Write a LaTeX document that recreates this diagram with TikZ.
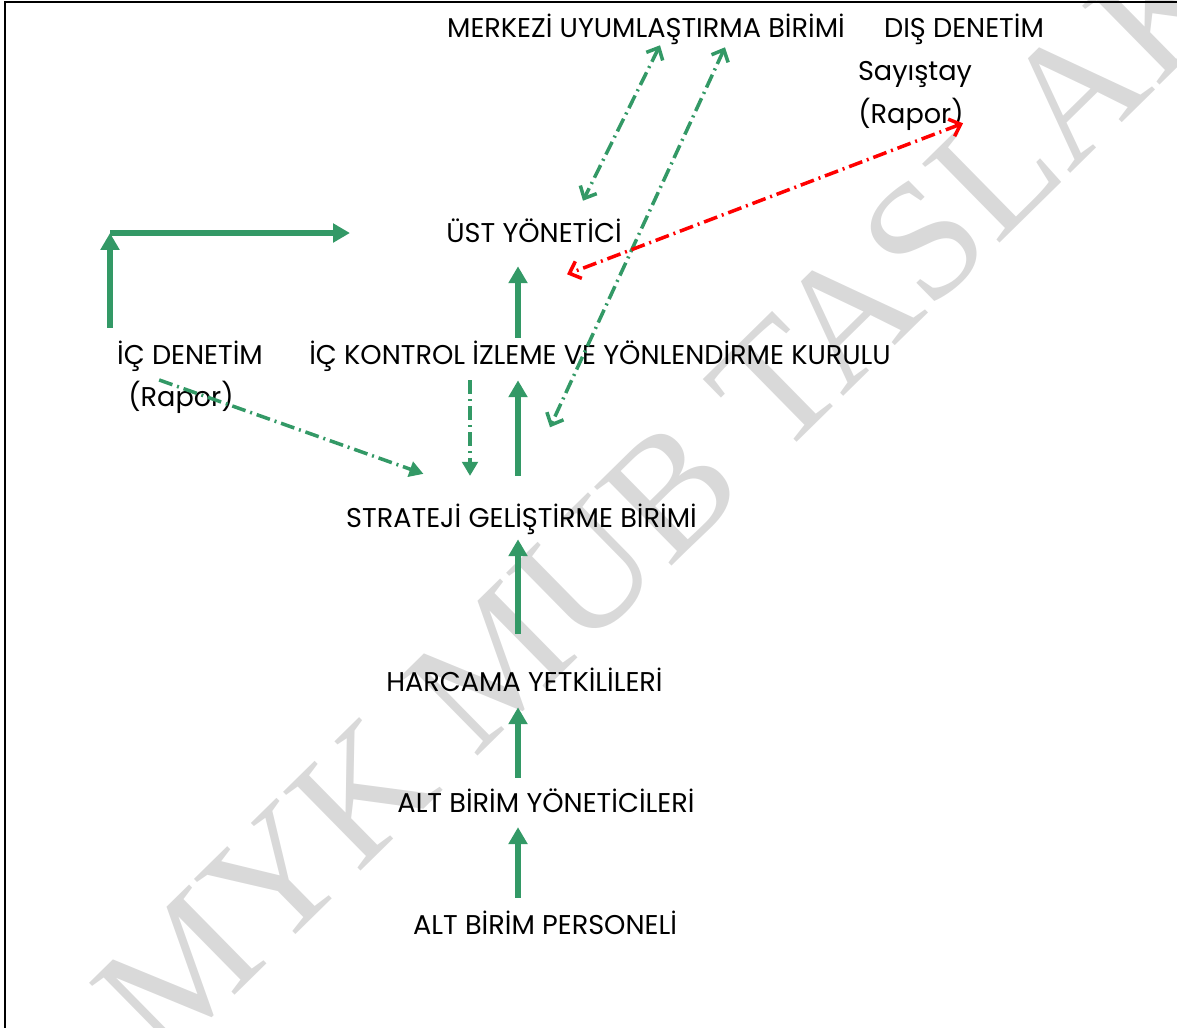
\documentclass[tikz,border=0pt]{standalone}
\usepackage{fontspec}
\setmainfont{Poppins}
\newfontfamily\wmfont{Liberation Serif}
\usetikzlibrary{arrows.meta,calc}
\definecolor{kgreen}{RGB}{51,153,102}
\definecolor{wmgray}{RGB}{217,217,217}

\begin{document}
\begin{tikzpicture}[x=0.025cm, y=-0.025cm,
  lbl/.style={inner sep=0pt, text height=0.45cm, text depth=0pt, font=\fontsize{19.3}{21}\selectfont},
  uparr/.style={color=kgreen, line width=3.9pt, -{Triangle[length=12pt,width=13pt]}},
  dd/.style={color=kgreen, line width=2.5pt, dash pattern=on 10pt off 3.5pt on 1.4pt off 3.5pt},
  ddtip/.style={dd, -{Triangle[length=10pt,width=11pt]}},
  ddboth/.style={dd, {Straight Barb[length=7pt,width=13pt]}-{Straight Barb[length=7pt,width=13pt]}},
  ddred/.style={ddboth, color=red}]

\useasboundingbox (0,0) rectangle (1177,1027);

% Filigran
\node[rotate=44.5, text=wmgray, font=\wmfont\fontsize{120}{120}\selectfont] (wm) at (665,495) {MYK MUB TASLAK};

% Cerceve
\draw[line width=2.1pt] (5,1040) -- (5,2) -- (1190,2);

% Birimler
\node[lbl] (merkezi)   at (646,28.5) {MERKEZİ UYUMLAŞTIRMA BİRİMİ};
\node[lbl] (dis)       at (964,28.5) {DIŞ DENETİM};
\node[lbl] (sayistay)  at (915,71)   {Sayıştay};
\node[lbl] (rapordis)  at (911,114)  {(Rapor)};
\node[lbl] (ust)       at (534,233)  {ÜST YÖNETİCİ};
\node[lbl] (icdenetim) at (190,355)  {İÇ DENETİM};
\node[lbl] (raporic)   at (181,397)  {(Rapor)};
\node[lbl] (ickontrol) at (600,355)  {İÇ KONTROL İZLEME VE YÖNLENDİRME KURULU};
\node[lbl] (strateji)  at (521.5,518) {STRATEJİ GELİŞTİRME BİRİMİ};
\node[lbl] (harcama)   at (524.5,682) {HARCAMA YETKİLİLERİ};
\node[lbl] (altyon)    at (546,803.5) {ALT BİRİM YÖNETİCİLERİ};
\node[lbl] (altpers)   at (545,925)  {ALT BİRİM PERSONELİ};

\coordinate (kose) at (110,233);
\coordinate (eks)  at (518,0);

% Ic denetim
\draw[uparr, shorten <=0.45cm] (icdenetim.north -| kose) -- (kose);
\draw[uparr, shorten >=4.6cm] (kose) -- (kose -| ust);

% Hiyerarsi
\draw[uparr, shorten <=0.2cm,  shorten >=0.6cm]  (ickontrol.north -| eks) -- (ust.south -| eks);
\draw[uparr, shorten <=0.82cm, shorten >=0.4cm]  (strateji.north -| eks) -- (ickontrol.south -| eks);
\draw[uparr, shorten <=0.97cm, shorten >=0.3cm]  (harcama.north -| eks) -- (strateji.south -| eks);
\draw[uparr, shorten <=0.41cm, shorten >=0.4cm]  (altyon.north -| eks) -- (harcama.south -| eks);
\draw[uparr, shorten <=0.45cm, shorten >=0.36cm] (altpers.north -| eks) -- (altyon.south -| eks);

% Kesikli baglantilar
\draw[ddtip, shorten <=0.4cm, shorten >=0.82cm] (ickontrol.south -| 470,0) -- (strateji.north -| 470,0);
\draw[ddtip, shorten <=-0.58cm, shorten >=2.6cm] (raporic.north) -- (strateji.north);
\draw[ddboth] ($(merkezi.south)+(14,7.5)$) -- ($(ust.north)+(49,-23)$);
\draw[ddboth] ($(merkezi.south)+(79,9.5)$) -- ($(ickontrol.south)+(-50,63)$);
\draw[ddred]  ($(rapordis.south)+(52,0)$) -- ($(ust.south)+(33,32)$);

\end{tikzpicture}
\end{document}
